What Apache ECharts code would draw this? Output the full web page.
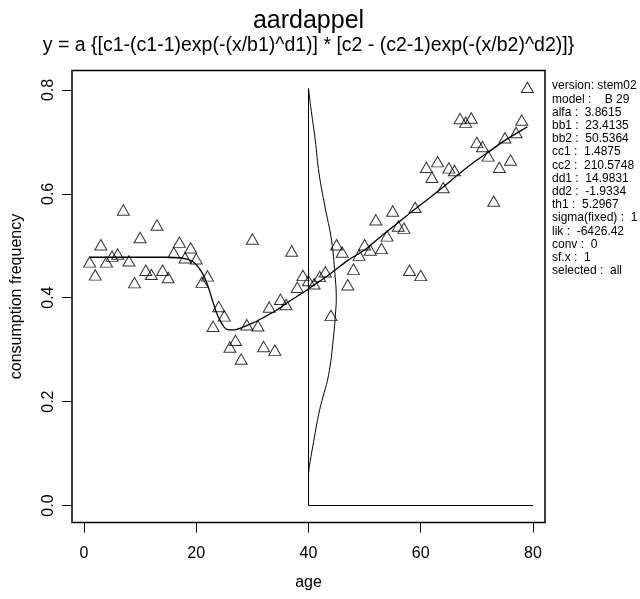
<!DOCTYPE html>
<html>
<head>
<meta charset="utf-8">
<title>aardappel</title>
<script src="https://cdn.jsdelivr.net/npm/echarts@6/dist/echarts.min.js"></script>
<style>
  html, body { margin: 0; padding: 0; background: #fff; }
  #chart { width: 640px; height: 599px; }
</style>
</head>
<body>
<div id="chart"></div>
<script>
// Observed consumption frequency per age
const ages = [1, 2, 3, 4, 5, 6, 7, 8, 9, 10, 11, 12, 13, 14, 15, 16, 17, 18, 19, 20,
  21, 22, 23, 24, 25, 26, 27, 28, 29, 30, 31, 32, 33, 34, 35, 36, 37, 38, 39, 40,
  41, 42, 43, 44, 45, 46, 47, 48, 49, 50, 51, 52, 53, 54, 55, 56, 57, 58, 59, 60,
  61, 62, 63, 64, 65, 66, 67, 68, 69, 70, 71, 72, 73, 74, 75, 76, 77, 78, 79];
const freq = [0.469, 0.444, 0.502, 0.469, 0.480, 0.484, 0.569, 0.471, 0.429, 0.516,
  0.453, 0.445, 0.540, 0.453, 0.439, 0.487, 0.507, 0.477, 0.496, 0.475,
  0.430, 0.442, 0.345, 0.383, 0.365, 0.305, 0.318, 0.282, 0.348, 0.513,
  0.346, 0.306, 0.382, 0.299, 0.397, 0.387, 0.490, 0.420, 0.443, 0.433,
  0.427, 0.441, 0.450, 0.366, 0.502, 0.488, 0.425, 0.455, 0.482, 0.502,
  0.492, 0.550, 0.495, 0.519, 0.567, 0.538, 0.534, 0.453, 0.574, 0.443,
  0.651, 0.632, 0.662, 0.612, 0.650, 0.645, 0.745, 0.738, 0.746, 0.699,
  0.691, 0.673, 0.586, 0.651, 0.708, 0.665, 0.718, 0.742, 0.805];

// Fitted curve (model B 29)
const fitAge = [1, 5, 10, 15, 17, 18.5, 19.5, 20.5, 21.2, 22.0, 22.8, 23.5, 24.3, 25.0,
  25.8, 26.8, 28, 30, 32, 34, 36, 38, 40, 42, 44, 47, 50, 53, 56, 59, 62, 64, 67, 70, 72, 75, 79];
const fitFreq = [0.478, 0.478, 0.478, 0.478, 0.477, 0.474, 0.469, 0.457, 0.445, 0.425,
  0.398, 0.374, 0.355, 0.343, 0.338, 0.338, 0.342, 0.351, 0.362, 0.374, 0.389, 0.403,
  0.417, 0.432, 0.447, 0.472, 0.492, 0.519, 0.545, 0.571, 0.596, 0.613, 0.640, 0.665,
  0.680, 0.703, 0.729];

// Residual density, drawn sideways from age 40
const densAge = [40.0, 40.39, 41.2, 41.87, 42.94, 44.1, 44.7, 44.95, 44.9, 44.4, 43.55, 42.0, 40.75, 40.15, 40.0];
const densFreq = [0.803, 0.768, 0.704, 0.640, 0.575, 0.511, 0.447, 0.400, 0.383, 0.319, 0.250, 0.185, 0.113, 0.075, 0.060];
const densFrameAge = [80, 40, 40];
const densFrameFreq = [0, 0, 0.803];

// Axis ticks
const xTicks = [0, 20, 40, 60, 80];
const yTicks = [0, 0.2, 0.4, 0.6, 0.8];

// Fit summary
const infoLines = [
  'version: stem02',
  'model :    B 29',
  'alfa :  3.8615',
  'bb1 :  23.4135',
  'bb2 :  50.5364',
  'cc1 :  1.4875',
  'cc2 :  210.5748',
  'dd1 :  14.9831',
  'dd2 :  -1.9334',
  'th1 :  5.2967',
  'sigma(fixed) :  1',
  'lik :  -6426.42',
  'conv :  0',
  'sf.x :  1',
  'selected :  all'
];

const FONT = '"Liberation Sans", Arial, Helvetica, sans-serif';
const pairs = (xs, ys) => xs.map((x, i) => [x, ys[i]]);

const chart = echarts.init(document.getElementById('chart'), null, { renderer: 'canvas' });

chart.setOption({
  animation: false,
  backgroundColor: '#fff',
  grid: {
    left: 72, right: 95, top: 70.5, bottom: 76.5,
    show: true, borderColor: '#000', borderWidth: 1.5, backgroundColor: 'transparent'
  },
  xAxis: {
    type: 'value', min: -2.14, max: 82.14,
    axisLine: { show: false, onZero: false },
    splitLine: { show: false },
    axisTick: { show: true, length: 10, customValues: xTicks, lineStyle: { color: '#000', width: 1 } },
    axisLabel: { customValues: xTicks, fontSize: 16, color: '#000', fontFamily: FONT, margin: 23 },
    name: 'age', nameLocation: 'middle', nameGap: 52,
    nameTextStyle: { fontSize: 16, color: '#000', fontFamily: FONT }
  },
  yAxis: {
    type: 'value', min: -0.0327, max: 0.8375,
    axisLine: { show: false, onZero: false },
    splitLine: { show: false },
    axisTick: { show: true, length: 10, customValues: yTicks, lineStyle: { color: '#000', width: 1 } },
    axisLabel: {
      customValues: yTicks, rotate: 90, fontSize: 16, color: '#000', fontFamily: FONT, margin: 15,
      formatter: v => v.toFixed(1)
    },
    name: 'consumption frequency', nameLocation: 'middle', nameGap: 47,
    nameTextStyle: { fontSize: 16, color: '#000', fontFamily: FONT }
  },
  graphic: [
    {
      type: 'text', x: 308.5, y: 21,
      style: { text: 'aardappel', font: '25px ' + FONT, fill: '#000', align: 'center', verticalAlign: 'middle' }
    },
    {
      type: 'text', x: 308.5, y: 46,
      style: {
        text: 'y = a {[c1-(c1-1)exp(-(x/b1)^d1)] * [c2 - (c2-1)exp(-(x/b2)^d2)]}',
        font: '19.5px ' + FONT, fill: '#000', align: 'center', verticalAlign: 'middle'
      }
    },
    {
      type: 'text', x: 552, y: 79.5,
      style: {
        text: infoLines.join('\n'), font: '12px ' + FONT, fill: '#000',
        lineHeight: 13.2, align: 'left', verticalAlign: 'top'
      }
    }
  ],
  series: [
    {
      type: 'line', data: pairs(densFrameAge, densFrameFreq), showSymbol: false, silent: true,
      lineStyle: { color: '#000', width: 1 }
    },
    {
      type: 'line', data: pairs(densAge, densFreq), showSymbol: false, silent: true, smooth: 0.4,
      lineStyle: { color: '#000', width: 1 }
    },
    {
      type: 'scatter', data: pairs(ages, freq), symbol: 'triangle', symbolSize: [12, 10.4], silent: true,
      itemStyle: { color: 'rgba(0,0,0,0)', borderColor: '#000', borderWidth: 1 }
    },
    {
      type: 'line', data: pairs(fitAge, fitFreq), showSymbol: false, silent: true, smooth: 0.3,
      lineStyle: { color: '#000', width: 1.3 }
    }
  ]
});
</script>
</body>
</html>
